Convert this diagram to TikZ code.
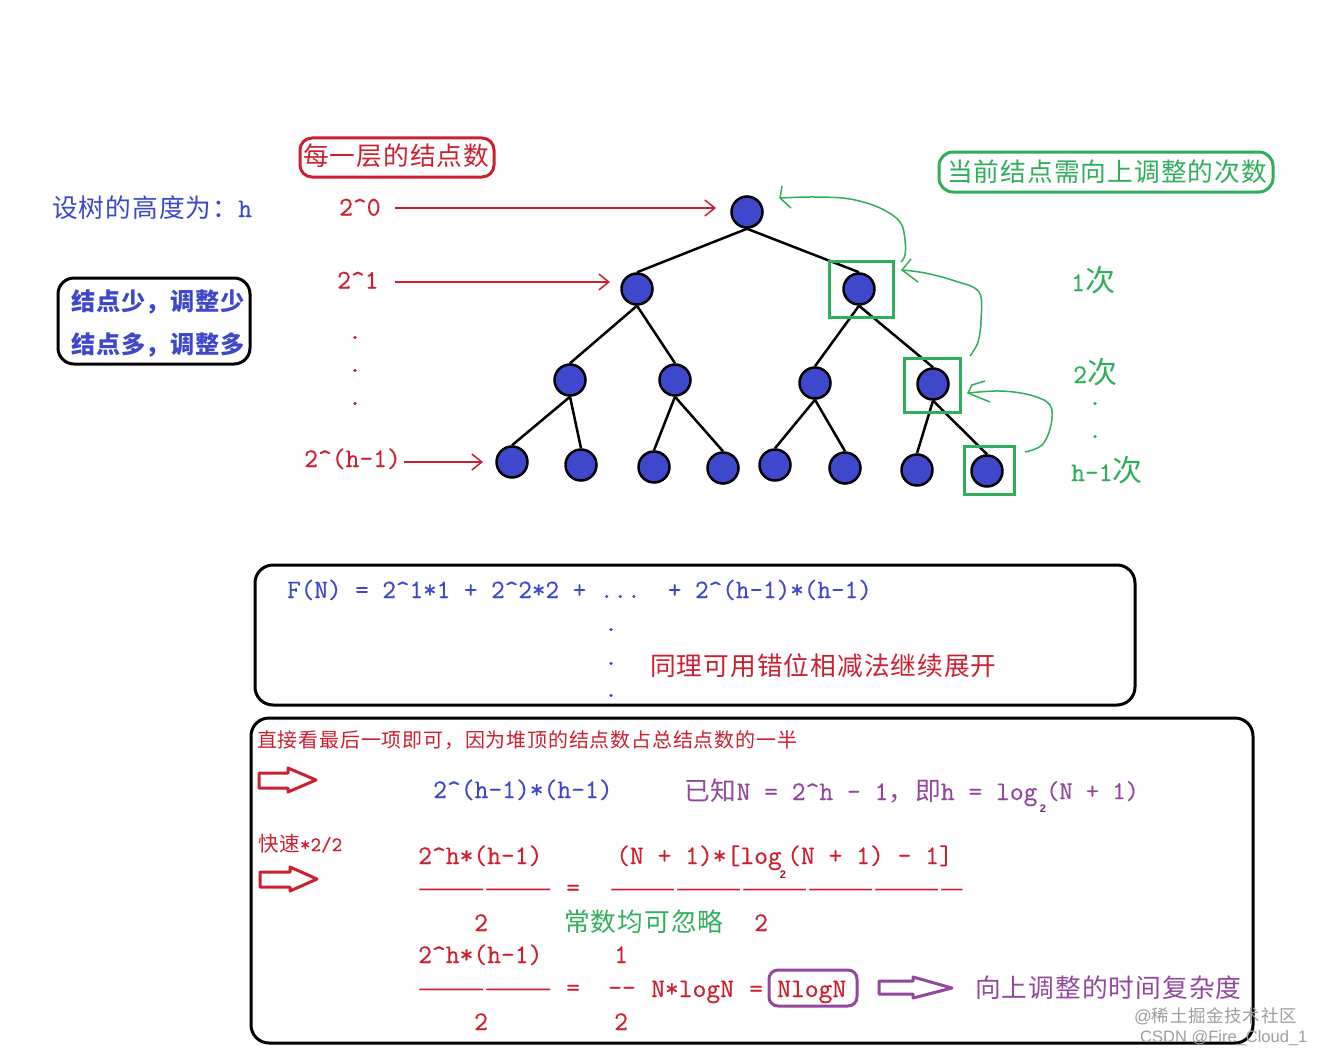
\documentclass[tikz,border=0pt]{standalone}
\usepackage{fontspec}
\usetikzlibrary{arrows.meta}
\setmonofont[FakeBold=0.5]{Latin Modern Mono}
\newfontfamily\zh[LetterSpace=4,Scale=0.959]{Noto Sans CJK SC}
\newfontfamily\zhn[LetterSpace=4]{Noto Sans CJK SC}
\newfontfamily\zhd[LetterSpace=3]{Noto Sans CJK SC}
\newfontfamily\wm{Liberation Sans}
\definecolor{cblue}{HTML}{3F48CC}
\definecolor{cred}{HTML}{CC2030}
\definecolor{cgreen}{HTML}{2FAE5C}
\definecolor{cpurple}{HTML}{93489E}
\newcommand{\fsA}{\fontsize{26.8}{30}\selectfont\ttfamily}
\newcommand{\crt}{\textasciicircum}
\newcommand{\ci}{{\fontsize{30}{32}\selectfont\zhd 次}}
\tikzset{
  txt/.style={anchor=base west,inner sep=0pt,font=\fsA},
  tred/.style={txt,text=cred},
  tblue/.style={txt,text=cblue},
  tgreen/.style={txt,text=cgreen},
  tpurple/.style={txt,text=cpurple},
  tdot/.style={anchor=base,inner sep=0pt,font=\fsA},
  ruletxt/.style={tred,font=\fontsize{27}{30}\selectfont\zhd},
  subtxt/.style={anchor=center,inner sep=0pt,font=\fontsize{11}{12}\selectfont\wm\bfseries},
  treenode/.style={circle,draw=black,line width=2.5pt,fill=cblue,minimum size=31pt,inner sep=0pt},
  treeedge/.style={draw=black,line width=2.5pt},
  gbox/.style={draw=cgreen,line width=3pt,fill=none},
  harrow/.style={draw=cred,line width=1.5pt,-{Straight Barb[length=10pt,width=16pt,line width=1.5pt]}},
  gcurve/.style={draw=cgreen,line width=1.5pt},
  blockarrow/.style={line width=3pt,line join=round,fill=white},
  framebox/.style={draw=black,line width=3pt,rounded corners=18pt,fill=none},
}
\begin{document}
\begin{tikzpicture}[x=1pt,y=-1pt]
\useasboundingbox[fill=white] (0,0) rectangle (1322,1054);

% frames
\draw[framebox] (255,565) rectangle (1135,705);
\draw[framebox] (251,718) rectangle (1253,1043);
\draw[framebox,rounded corners=16pt] (58,278) rectangle (250,364);
\draw[draw=cred,line width=3pt,rounded corners=12pt] (300,138) rectangle (494,177);
\draw[draw=cgreen,line width=3pt,rounded corners=14pt] (939,152) rectangle (1273,192);
\draw[draw=cpurple,line width=3pt,rounded corners=9pt] (769,970) rectangle (857,1006);

% tree
\node[treenode] (r)   at (747,212) {};
\node[treenode] (a)   at (637,289) {};
\node[treenode] (b)   at (859,289) {};
\node[treenode] (c)   at (570,380) {};
\node[treenode] (d)   at (675,380) {};
\node[treenode] (e)   at (815,383) {};
\node[treenode] (f)   at (933,384) {};
\node[treenode] (l1)  at (512,462) {};
\node[treenode] (l2)  at (581,465) {};
\node[treenode] (l3)  at (654,467) {};
\node[treenode] (l4)  at (723,468) {};
\node[treenode] (l5)  at (775,465) {};
\node[treenode] (l6)  at (845,468) {};
\node[treenode] (l7)  at (917,470) {};
\node[treenode] (l8)  at (987,471) {};
\foreach \p/\q in {r/a,r/b,a/c,a/d,b/e,b/f,c/l1,c/l2,d/l3,d/l4,e/l5,e/l6,f/l7,f/l8}
  \draw[treeedge] (\p.south) -- (\q.north);

% green selection boxes
\draw[gbox] (829,261) rectangle (893,317);
\draw[gbox] (904,358) rectangle (960,412);
\draw[gbox] (964,446) rectangle (1014,494);

% green hand-drawn arrows
\draw[gcurve] plot[smooth,tension=0.6] coordinates {(780,198) (815,197) (850,199) (880,208) (900,222) (905,240) (905,255) (901,262)};
\draw[gcurve] (782,186) -- (780,198) -- (791,208);
\draw[gcurve] plot[smooth,tension=0.6] coordinates {(902,270) (925,273) (955,281) (979,292) (981,320) (978,342) (970,356)};
\draw[gcurve] (911,259) -- (902,270) -- (918,282);
\draw[gcurve] plot[smooth,tension=0.6] coordinates {(968,393) (1000,391) (1030,395) (1050,405) (1051,425) (1042,445) (1025,452)};
\draw[gcurve] (985,381) -- (972,385) -- (968,393) -- (990,402);

% level labels and arrows
\node[tred] (n0) at (339,215.5) {2\crt0};
\node[tred] (n1) at (337,288.5) {2\crt1};
\node[tred] (nh) at (304,467) {2\crt(h-1)};
\node[tdot,text=cred] (d1) at (355,339) {.};
\node[tdot,text=cred] (d2) at (355,372) {.};
\node[tdot,text=cred] (d3) at (355,405) {.};
\coordinate (s0) at (395,208); \coordinate (e0) at (716,208);
\coordinate (s1) at (395,282); \coordinate (e1) at (610,282);
\coordinate (s2) at (404,462); \coordinate (e2) at (483,462);
\draw[harrow] (s0) -- (e0);
\draw[harrow] (s1) -- (e1);
\draw[harrow] (s2) -- (e2);

\node[tred] (title1) at (303,165) {\zh 每一层的结点数};
\node[tgreen] (title2) at (947,181) {\zh 当前结点需向上调整的次数};
\node[tblue] (hh) at (52,217) {{\zh 设树的高度为：}h};
\node[txt,text=cblue,font=\fontsize{24.2}{28}\selectfont\zhd\bfseries] (k1) at (71,310) {结点少，调整少};
\node[txt,text=cblue,font=\fontsize{24.2}{28}\selectfont\zhd\bfseries] (k2) at (71,353) {结点多，调整多};

\node[tgreen] (t1) at (1071,291) {1\ci};
\node[tgreen] (t2) at (1073,383) {2\ci};
\node[tdot,text=cgreen] (gd1) at (1095,405) {.};
\node[tdot,text=cgreen] (gd2) at (1095,438) {.};
\node[tgreen] (t3) at (1071,481) {h-1\ci};

% first box
\node[tblue,font=\fontsize{26.4}{30}\selectfont\ttfamily] (fn) at (287,598) {F(N)~=~2\crt1*1~+~2\crt2*2~+~...~~+~2\crt(h-1)*(h-1)};
\node[tdot,text=cblue] (bd1) at (611,631) {.};
\node[tdot,text=cblue] (bd2) at (611,665) {.};
\node[tdot,text=cblue] (bd3) at (611,697) {.};
\node[tred] (same) at (650,675) {\zh 同理可用错位相减法继续展开};

% second box
\node[tred,font=\fontsize{20}{24}\selectfont\zhn] (hint) at (257,747) {直接看最后一项即可，因为堆顶的结点数占总结点数的一半};
\draw[cred,blockarrow] (259,773) -- (288,773) -- (288,768) -- (316,780) -- (288,792) -- (288,788) -- (259,788) -- cycle;
\draw[cred,blockarrow] (260,872) -- (290,872) -- (290,867) -- (317,879) -- (290,891) -- (290,887) -- (260,887) -- cycle;
\node[tblue] (last) at (433,798) {2\crt(h-1)*(h-1)};
\node[tpurple] (known) at (684,800) {{\zh 已知}N~=~2\crt h~-~1{\zh ，即}h~=~log};
\node[subtxt,text=cpurple!70!black] (s2a) at (1043,809) {2};
\node[tpurple,font=\fontsize{25.7}{30}\selectfont\ttfamily] (known2) at (1046,799) {(N~+~1)};
\node[tred,font=\fontsize{20.5}{24}\selectfont\ttfamily] (fast) at (258,851) {{\zhn 快速}*2/2};

\node[tred] (f1) at (418,864) {2\crt h*(h-1)};
\node[tred] (f2) at (616,864) {(N~+~1)*[log};
\node[subtxt,text=cred!75!black] (s2b) at (783,875) {2};
\node[tred] (f3) at (787,864) {(N~+~1)~-~1]};
\node[ruletxt] (r1) at (418,897) {——————};
\node[tred] (eq1) at (566,896) {=};
\node[ruletxt,font=\fontsize{26.5}{30}\selectfont\zhd] (r2) at (610,897) {————————————————};
\node[tred] (two1) at (474,931) {2};
\node[tgreen] (const) at (564,931) {\zh 常数均可忽略};
\node[tred] (two2) at (754,931) {2};

\node[tred] (g1) at (418,963) {2\crt h*(h-1)};
\node[tred] (one) at (614,963) {1};
\node[ruletxt] (r3) at (418,997) {——————};
\node[tred] (eq2) at (566,996) {=};
\node[tred] (dd) at (608,996) {--};
\node[tred] (nlog) at (651,997) {N*logN};
\node[tred] (eq3) at (749,997) {=};
\node[tred] (boxed) at (777,997) {NlogN};
\node[tred] (two3) at (474,1030) {2};
\node[tred] (two4) at (614,1030) {2};

\draw[cpurple,blockarrow] (879,981) -- (913,981) -- (913,977) -- (952,988) -- (913,998) -- (913,994) -- (879,994) -- cycle;
\node[tpurple] (up) at (975,997) {\zh 向上调整的时间复杂度};

% watermark
\node[anchor=base west,inner sep=0pt,text=black!38,font=\fontsize{17.5}{20}\selectfont\wm] (w1) at (1134,1022) {@{\zhn 稀土掘金技术社区}};
\node[anchor=base west,inner sep=0pt,text=black!38,font=\fontsize{16.5}{20}\selectfont\wm] (w2) at (1140,1042) {CSDN @Fire\_Cloud\_1};
\end{tikzpicture}
\end{document}
